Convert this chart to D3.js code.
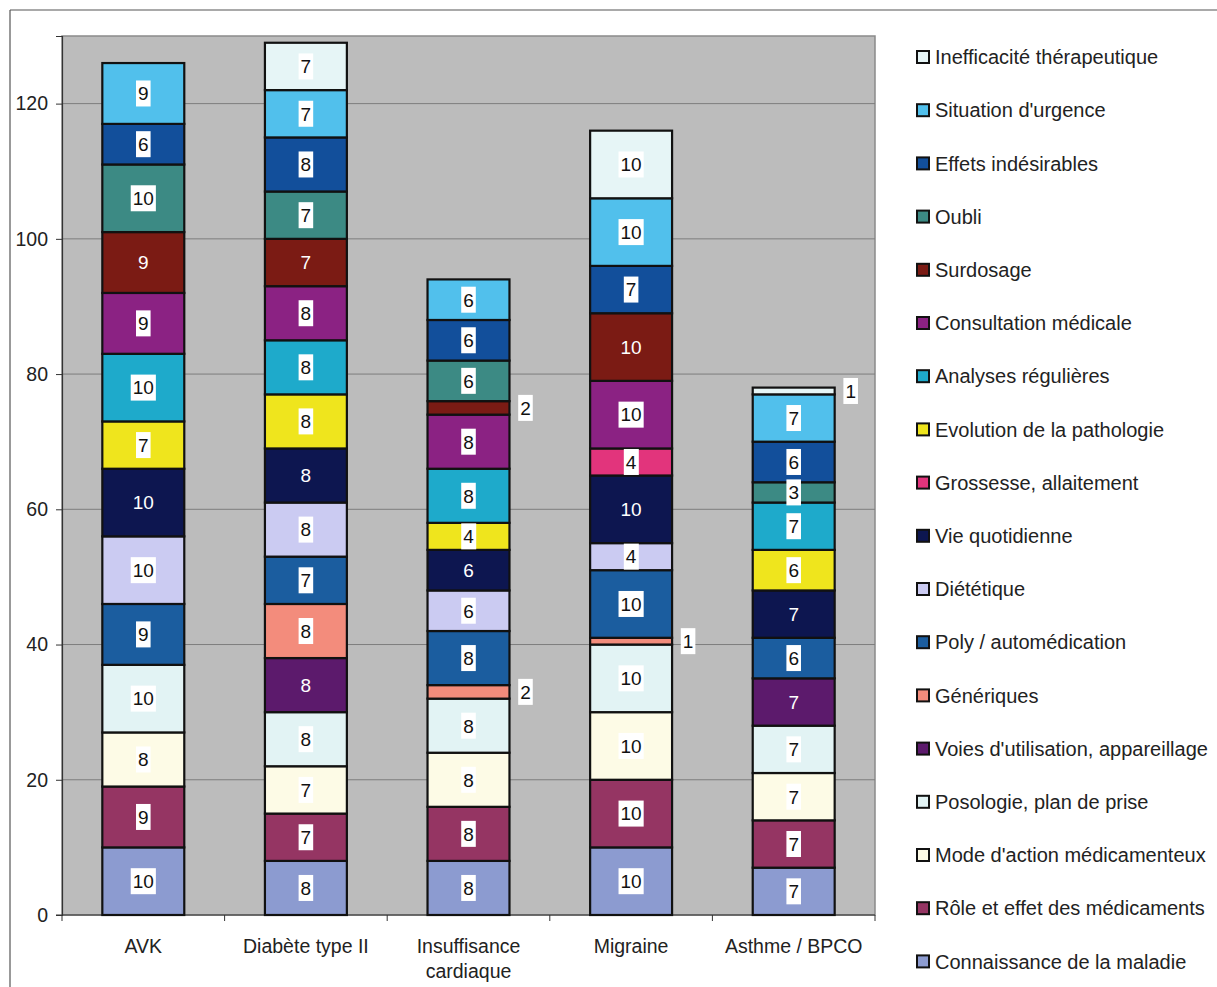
<!DOCTYPE html>
<html>
<head>
<meta charset="utf-8">
<script src="https://cdn.jsdelivr.net/npm/d3@7"></script>
<style>
  body { margin: 0; background: #fff; }
  text { font-family: "Liberation Sans", Arial, sans-serif; }
</style>
</head>
<body>
<svg id="chart" width="1217" height="987"></svg>
<script>
const width = 1217
const height = 987

// categories on the x axis
const categories = ["AVK", "Diabète type II", "Insuffisance cardiaque", "Migraine", "Asthme / BPCO"]

// series, bottom of the stack first
const seriesNames = [
    "Connaissance de la maladie",
    "Rôle et effet des médicaments",
    "Mode d'action médicamenteux",
    "Posologie, plan de prise",
    "Voies d'utilisation, appareillage",
    "Génériques",
    "Poly / automédication",
    "Diététique",
    "Vie quotidienne",
    "Grossesse, allaitement",
    "Evolution de la pathologie",
    "Analyses régulières",
    "Consultation médicale",
    "Surdosage",
    "Oubli",
    "Effets indésirables",
    "Situation d'urgence",
    "Inefficacité thérapeutique"
]
const seriesColors = [
    "#8c9bd0", "#953563", "#fdfbe6", "#e2f3f4", "#5c1a6c", "#f38c7c",
    "#1b5d9f", "#cbcbf2", "#0d1650", "#e2347c", "#efe51d", "#1eaacb",
    "#8b2283", "#7b1b14", "#3c8a84", "#124f9b", "#51c0ec", "#e6f5f6"
]
// dark fills get white text with no box
const darkSeries = ["Voies d'utilisation, appareillage", "Vie quotidienne", "Surdosage"]

// values per category, same order as seriesNames
const avk          = [10, 9, 8, 10, 0, 0, 9, 10, 10, 0, 7, 10, 9, 9, 10, 6, 9, 0]
const diabete      = [8, 7, 7, 8, 8, 8, 7, 8, 8, 0, 8, 8, 8, 7, 7, 8, 7, 7]
const insuffisance = [8, 8, 8, 8, 0, 2, 8, 6, 6, 0, 4, 8, 8, 2, 6, 6, 6, 0]
const migraine     = [10, 10, 10, 10, 0, 1, 10, 4, 10, 4, 0, 0, 10, 10, 0, 7, 10, 10]
const asthme       = [7, 7, 7, 7, 7, 0, 6, 0, 7, 0, 6, 7, 0, 0, 3, 6, 7, 1]

const yTicks = [0, 20, 40, 60, 80, 100, 120]

var svg = d3.select("#chart")

// rows for d3.stack
var table = categories.map(function (c, i) {
    var row = { cat: c }
    var vals = [avk, diabete, insuffisance, migraine, asthme][i]
    seriesNames.forEach(function (s, j) { row[s] = vals[j] })
    return row
})
var stacked = d3.stack().keys(seriesNames)(table)

var plot = { left: 62, right: 875, top: 36, bottom: 915 }

var x = d3.scaleBand()
    .domain(categories)
    .range([plot.left, plot.right])
    .paddingInner(0.496)
    .paddingOuter(0.248)

var y = d3.scaleLinear()
    .domain([0, 130])
    .range([plot.bottom, plot.top])

var color = d3.scaleOrdinal().domain(seriesNames).range(seriesColors)

// outer chart frame
svg.append("line").attr("x1", 10).attr("x2", width).attr("y1", 10).attr("y2", 10)
    .attr("stroke", "#555").attr("stroke-width", 1.2)
svg.append("line").attr("x1", 10).attr("x2", 10).attr("y1", 10).attr("y2", height)
    .attr("stroke", "#555").attr("stroke-width", 1.2)

// plot background
svg.append("rect")
    .attr("x", plot.left).attr("y", plot.top)
    .attr("width", plot.right - plot.left).attr("height", plot.bottom - plot.top)
    .attr("fill", "#bcbcbc")
    .attr("stroke", "#8a8a8a").attr("stroke-width", 1.5)

// gridlines
svg.append("g").selectAll("line")
    .data(yTicks.slice(1))
    .enter()
    .append("line")
    .attr("x1", plot.left).attr("x2", plot.right)
    .attr("y1", d => y(d)).attr("y2", d => y(d))
    .attr("stroke", "#7d7d7d").attr("stroke-width", 1)

// y axis
var yAxis = d3.axisLeft(y).tickValues(yTicks).tickSize(6).tickPadding(8)
var gy = svg.append("g")
    .attr("transform", "translate(" + plot.left + ",0)")
    .call(yAxis)
gy.select(".domain").attr("stroke", "#333").attr("stroke-width", 1.2)
gy.selectAll(".tick line").attr("stroke", "#333")
gy.selectAll("text").style("font-size", "19.5px").attr("fill", "#222")

// x axis: ticks sit between the categories
var gx = svg.append("g")
svg.append("line")
    .attr("x1", plot.left - 6).attr("x2", plot.right)
    .attr("y1", plot.bottom).attr("y2", plot.bottom)
    .attr("stroke", "#333").attr("stroke-width", 1.2)
var bounds = categories.map(c => x(c) - x.step() * x.paddingInner() / 2)
bounds.push(plot.right)
gx.selectAll("line")
    .data(bounds)
    .enter()
    .append("line")
    .attr("x1", d => d).attr("x2", d => d)
    .attr("y1", plot.bottom).attr("y2", plot.bottom + 6)
    .attr("stroke", "#333")

var xLabels = {
    "Insuffisance cardiaque": ["Insuffisance", "cardiaque"]
}
categories.forEach(function (c) {
    var lines = xLabels[c] || [c]
    var t = svg.append("text")
        .attr("x", x(c) + x.bandwidth() / 2)
        .attr("y", 953)
        .attr("text-anchor", "middle")
        .style("font-size", "19.5px")
        .attr("fill", "#222")
    lines.forEach(function (l, k) {
        t.append("tspan").attr("x", x(c) + x.bandwidth() / 2).attr("dy", k == 0 ? 0 : 25).text(l)
    })
})

// stacked segments
var layers = svg.append("g").selectAll("g")
    .data(stacked)
    .enter()
    .append("g")
    .attr("fill", d => color(d.key))

layers.selectAll("rect")
    .data(d => d.filter(p => p[1] > p[0]))
    .enter()
    .append("rect")
    .attr("x", d => x(d.data.cat))
    .attr("y", d => y(d[1]))
    .attr("width", x.bandwidth())
    .attr("height", d => y(d[0]) - y(d[1]))
    .attr("stroke", "#111")
    .attr("stroke-width", 2.2)

// data labels
var labels = []
stacked.forEach(function (layer) {
    layer.forEach(function (p) {
        var v = p[1] - p[0]
        if (v > 0) labels.push({ key: layer.key, cat: p.data.cat, v: v, mid: (p[0] + p[1]) / 2 })
    })
})

var lg = svg.append("g")
labels.forEach(function (d) {
    var outside = d.v <= 2
    var cx = outside ? x(d.cat) + x.bandwidth() + 16 : x(d.cat) + x.bandwidth() / 2
    var cy = y(d.mid)
    var dark = darkSeries.indexOf(d.key) >= 0 && !outside
    var g = lg.append("g")
    var t = g.append("text")
        .attr("x", cx).attr("y", cy)
        .attr("text-anchor", "middle")
        .attr("dy", "0.36em")
        .style("font-size", "19px")
        .attr("fill", dark ? "#fff" : "#111")
        .text(d.v)
    if (!dark) {
        var bb = t.node().getBBox()
        g.insert("rect", "text")
            .attr("x", bb.x - 2).attr("y", cy - 13)
            .attr("width", bb.width + 4).attr("height", 26)
            .attr("fill", "#fff")
    }
})

// legend, top entry is the last series
var legendItems = seriesNames.slice().reverse()
var legend = svg.append("g").selectAll("g")
    .data(legendItems)
    .enter()
    .append("g")
    .attr("transform", (d, i) => "translate(917," + (57 + i * 53.2) + ")")

legend.append("rect")
    .attr("x", 0).attr("y", -6)
    .attr("width", 12).attr("height", 12)
    .attr("fill", d => color(d))
    .attr("stroke", "#111").attr("stroke-width", 2)

legend.append("text")
    .attr("x", 18).attr("y", 0)
    .attr("dy", "0.36em")
    .style("font-size", "20px")
    .attr("fill", "#222")
    .text(d => d)
</script>
</body>
</html>
